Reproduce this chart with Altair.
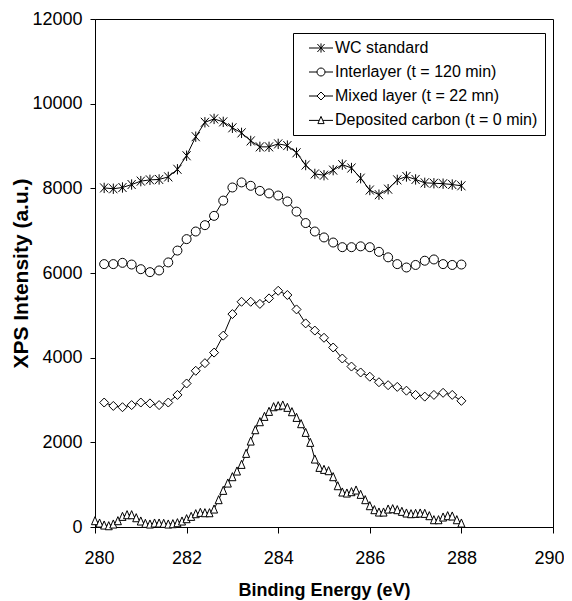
import altair as alt
import pandas as pd

# Binding energy grids (eV)
energy_main = [round(280.2 + 0.2 * i, 1) for i in range(40)]
energy_dep = [round(280.0 + 0.1 * i, 1) for i in range(81)]

series_names = [
    "WC standard",
    "Interlayer (t = 120 min)",
    "Mixed layer (t = 22 mn)",
    "Deposited carbon (t = 0 min)",
]

wc_standard = [
    8010, 7990, 8020, 8090, 8170, 8200, 8210, 8270, 8450, 8770,
    9220, 9560, 9640, 9570, 9430, 9310, 9120, 8980, 8980, 9050,
    9010, 8840, 8550, 8340, 8310, 8430, 8560, 8480, 8240, 7960,
    7850, 7980, 8200, 8280, 8210, 8130, 8120, 8110, 8090, 8060,
]

interlayer = [
    6210, 6210, 6240, 6200, 6090, 6020, 6060, 6250, 6530, 6800,
    6980, 7130, 7350, 7710, 8020, 8140, 8060, 7940, 7880, 7830,
    7690, 7450, 7180, 6980, 6840, 6720, 6610, 6610, 6630, 6610,
    6500, 6370, 6210, 6130, 6190, 6290, 6320, 6210, 6190, 6200,
]

mixed_layer = [
    2940, 2860, 2830, 2880, 2940, 2920, 2880, 2940, 3120, 3390,
    3690, 3870, 4120, 4520, 5030, 5320, 5320, 5270, 5400, 5580,
    5480, 5140, 4810, 4640, 4470, 4240, 3980, 3790, 3650, 3550,
    3420, 3350, 3310, 3220, 3120, 3080, 3120, 3170, 3120, 2980,
]

deposited_carbon = [
    150, 94, 47, 31, 71, 150, 252, 291, 291, 220,
    142, 87, 71, 94, 94, 87, 71, 79, 102, 142,
    197, 252, 315, 346, 338, 338, 425, 646, 866, 1039,
    1189, 1323, 1480, 1740, 2031, 2299, 2488, 2614, 2732, 2842,
    2866, 2882, 2827, 2724, 2590, 2441, 2236, 2000, 1606, 1409,
    1362, 1331, 1189, 976, 827, 803, 835, 874, 772, 646,
    504, 410, 354, 354, 425, 433, 410, 370, 331, 315,
    323, 331, 323, 268, 173, 173, 236, 268, 260, 173,
    94,
]

x_ticks = [280, 282, 284, 286, 288, 290]
y_ticks = [0, 2000, 4000, 6000, 8000, 10000, 12000]

rows = []
for name, xs, ys in [
    (series_names[0], energy_main, wc_standard),
    (series_names[1], energy_main, interlayer),
    (series_names[2], energy_main, mixed_layer),
    (series_names[3], energy_dep, deposited_carbon),
]:
    for xv, yv in zip(xs, ys):
        rows.append({"energy": xv, "intensity": yv, "series": name})
df = pd.DataFrame(rows)

# marker shapes (unit paths)
ast = "M-0.9,-1L0.9,1M-0.9,1L0.9,-1M0,-1.15V1.15"
circ = "M-1,0A1,1 0 1,0 1,0A1,1 0 1,0 -1,0Z"
diam = "M-1,0L0,-1L1,0L0,1Z"
tri = "M-0.78,0.9L0,-0.9L0.78,0.9Z"
chart_shapes = [ast, circ, diam, tri]

legend_shapes = [
    "M-3,0H3" + ast,
    "M-3,0H-1M1,0H3" + circ,
    "M-3,0H-1M1,0H3" + diam,
    "M-3,0.1H-0.5M0.5,0.1H3" + tri,
]

FONT = "Liberation Sans"

x_enc = alt.X(
    "energy:Q",
    scale=alt.Scale(domain=[280, 290], nice=False),
    axis=alt.Axis(
        values=x_ticks, title="Binding Energy (eV)", grid=False, format="d",
        tickSize=6, labelPadding=16, labelFontSize=18, labelFont=FONT,
        labelColor="black", titleFont=FONT, titleFontSize=18,
        titleFontWeight="bold", titleColor="black", titlePadding=14,
        domainColor="black", tickColor="black",
        labelFlush=True, labelFlushOffset=11,
    ),
)
y_enc = alt.Y(
    "intensity:Q",
    scale=alt.Scale(domain=[0, 12000], nice=False),
    axis=alt.Axis(
        values=y_ticks, title="XPS Intensity (a.u.)", grid=False, format="d",
        tickSize=5, labelPadding=8, labelFontSize=18, labelFont=FONT,
        labelColor="black", titleFont=FONT, titleFontSize=21,
        titleFontWeight="bold", titleColor="black", titlePadding=0,
        domainColor="black", tickColor="black", labelFlush=False,
    ),
)

base = alt.Chart(df)

lines = base.mark_line(color="black", strokeWidth=1).encode(
    x=x_enc, y=y_enc, detail="series:N"
)

points = base.mark_point(
    filled=True, fill="white", stroke="black", strokeWidth=1, size=81, opacity=1
).encode(
    x=x_enc,
    y=y_enc,
    shape=alt.Shape(
        "series:N",
        scale=alt.Scale(domain=series_names, range=chart_shapes),
        legend=None,
    ),
)

# legend-only layer: no data rows survive the filter, entries come from the scale domain
legend_layer = base.transform_filter(alt.datum.intensity < -1e9).mark_point(
    filled=False, color="black", strokeWidth=1, size=64, opacity=1
).encode(
    x=x_enc,
    y=y_enc,
    shape=alt.Shape(
        "series:N",
        scale=alt.Scale(domain=series_names, range=legend_shapes),
        legend=alt.Legend(
            title=None, orient="none", legendX=198, legendY=14,
            padding=7, strokeColor="black", fillColor="white",
            labelFont=FONT, labelFontSize=16, labelColor="black",
            labelLimit=400, symbolOffset=13, labelOffset=6,
            rowPadding=8, symbolStrokeColor="black",
            symbolStrokeWidth=1, symbolSize=64, symbolOpacity=1,
        ),
    ),
)

chart = (
    alt.layer(lines, points, legend_layer)
    .resolve_scale(shape="independent")
    .properties(
        width=458,
        height=508,
        autosize=alt.AutoSizeParams(type="none"),
        padding={"left": 87, "top": 11, "right": 11, "bottom": 74},
    )
    .configure_view(stroke="black", strokeWidth=1)
)

chart.save("out.html", embed_options={"renderer": "svg", "actions": False})
